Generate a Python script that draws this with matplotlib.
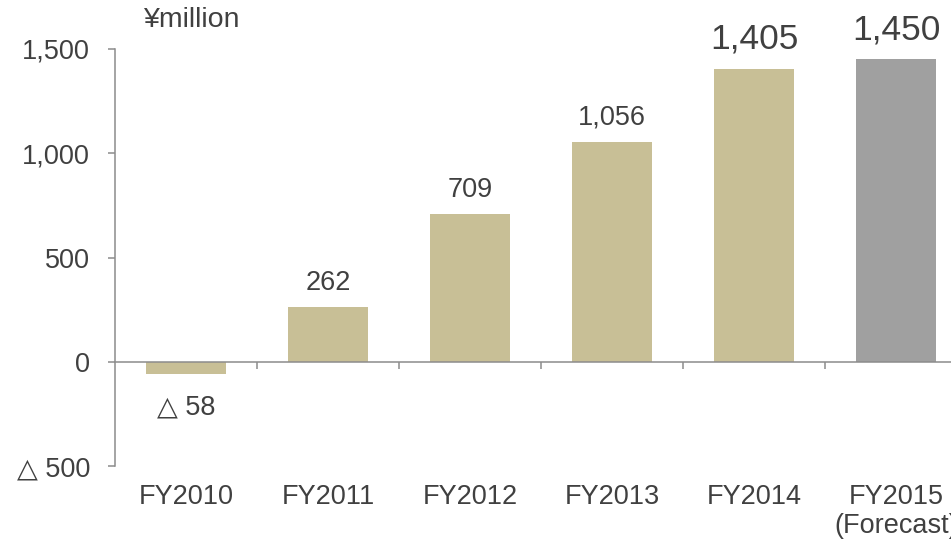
import matplotlib
matplotlib.use("Agg")
import matplotlib.pyplot as plt
import matplotlib.transforms as mtransforms

categories = ["FY2010", "FY2011", "FY2012", "FY2013", "FY2014", "FY2015\n(Forecast)"]
values = [-58, 262, 709, 1056, 1405, 1450]
value_labels = ["△ 58", "262", "709", "1,056", "1,405", "1,450"]
yticks = [-500, 0, 500, 1000, 1500]
ytick_labels = ["△ 500", "0", "500", "1,000", "1,500"]

plt.rcParams['font.family'] = ['Liberation Sans', 'DejaVu Sans']
txt = '#404040'
spine_c = '#8c8c8c'
colors = ['#C8BF96'] * 5 + ['#A0A0A0']
label_sizes = [19.5, 19.5, 19.5, 19.5, 25.5, 25.5]
label_gaps = [-29, 12, 12, 12, 14.5, 14]

fig = plt.figure(figsize=(9.51, 5.42), dpi=100)
ax = fig.add_axes([115/951, 76/542, 852/951, 417/542])
x = list(range(len(categories)))
bars = ax.bar(x, values, width=0.57, color=colors, zorder=2)
ax.set_xlim(-0.5, 5.5)
ax.set_ylim(-500, 1500)

for s in ['top', 'right']:
    ax.spines[s].set_visible(False)
ax.spines['left'].set_color(spine_c)
ax.spines['left'].set_linewidth(1.1)
ax.spines['bottom'].set_color(spine_c)
ax.spines['bottom'].set_linewidth(1.1)
ax.spines['bottom'].set_position(('data', 0))
ax.spines['bottom'].set_zorder(3)

ax.set_yticks(yticks)
ax.set_yticklabels(ytick_labels)
ax.tick_params(axis='y', direction='out', length=5, width=1.1, color=spine_c,
               labelsize=19.5, labelcolor=txt, pad=13)
ax.set_xticks([i + 0.5 for i in range(len(categories) - 1)])
ax.set_xticklabels([])
ax.tick_params(axis='x', direction='out', length=5, width=1.1, color=spine_c)

trans = mtransforms.blended_transform_factory(ax.transData, ax.transAxes)
for i, c in enumerate(categories):
    ax.text(i, -0.043, c, transform=trans, ha='center', va='top', fontsize=19.5,
            color=txt, linespacing=1.15, clip_on=False)

for i, (v, lab) in enumerate(zip(values, value_labels)):
    ax.annotate(lab, (i, v), xytext=(0, label_gaps[i]), textcoords='offset points',
                ha='center', va='baseline', fontsize=label_sizes[i], color=txt)

fig.text(143/951, 1 - 20/542, "¥million", ha='left', va='center', fontsize=20.5, color=txt)

fig.savefig("out.png", dpi=100)
